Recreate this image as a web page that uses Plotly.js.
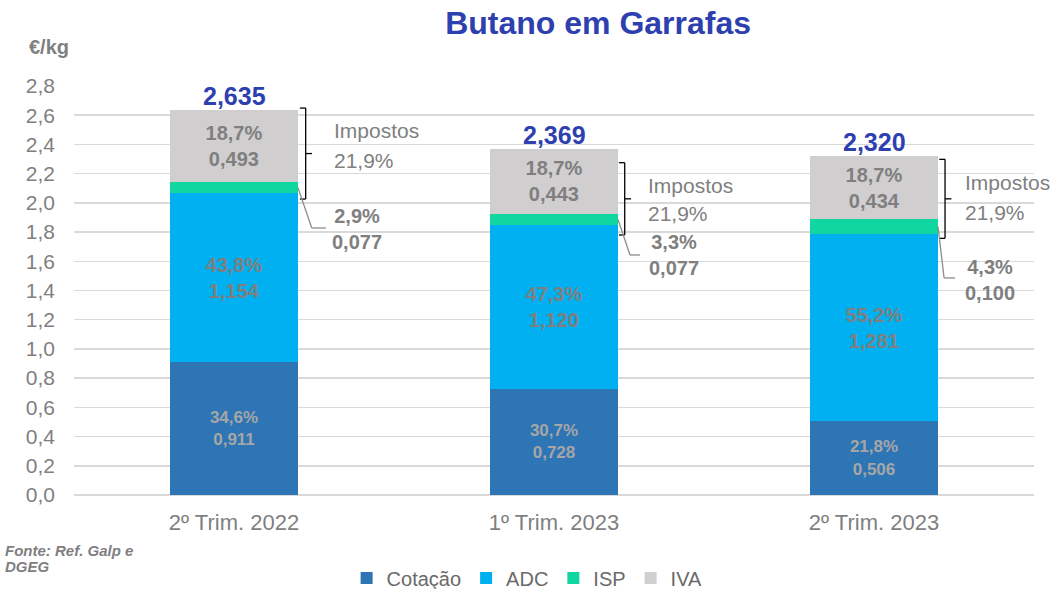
<!DOCTYPE html>
<html>
<head>
<meta charset="utf-8">
<script src="https://cdn.plot.ly/plotly-3.0.1.min.js"></script>
<style>html,body{margin:0;padding:0;background:#fff}#chart{width:1053px;height:589px}</style>
</head>
<body>
<div id="chart"></div>
<script>
const categories = ['2º Trim. 2022', '1º Trim. 2023', '2º Trim. 2023'];
const cotacao = [0.911, 0.728, 0.506];
const adc = [1.154, 1.120, 1.281];
const isp = [0.077, 0.077, 0.100];
const iva = [0.493, 0.443, 0.434];
const cotacaoPct = [34.6, 30.7, 21.8];
const adcPct = [43.8, 47.3, 55.2];
const ispPct = [2.9, 3.3, 4.3];
const ivaPct = [18.7, 18.7, 18.7];
const impostosPct = [21.9, 21.9, 21.9];
const totals = [2.635, 2.369, 2.320];
const yTicks = [0, 0.2, 0.4, 0.6, 0.8, 1.0, 1.2, 1.4, 1.6, 1.8, 2.0, 2.2, 2.4, 2.6, 2.8];

// layout-only placement helpers (not data)
const bracketTop = [2.649, 2.275, 2.298];
const bracketBottom = [2.026, 1.78, 1.757];
const bracketX = [0.224, 0.221, 0.222];
const leaderElbow = [[0.243, 1.828, 0.287], [1.2375, 1.643, 1.269], [2.219, 1.486, 2.253]];
const ispLabelPos = [[0.384, 1.818], [1.375, 1.646], [2.3625, 1.475]];
const impostosPos = [[0.306, 2.492, 2.293], [1.2875, 2.122, 1.924], [2.278, 2.136, 1.937]];

const fmt = (v, d) => v.toFixed(d).replace('.', ',');
const xs = categories.map((_, i) => i);
const FONT = 'Liberation Sans, Arial, sans-serif';

function barTrace(name, vals, pct, color, txtColor, txtSize, showText) {
  return {
    type: 'bar', name: name, x: xs, y: vals,
    marker: {color: color, line: {width: 0}},
    width: 0.4,
    text: showText ? vals.map((v, i) => fmt(pct[i], 1) + '%<br>' + fmt(v, 3)) : vals.map(() => ''),
    textposition: showText ? 'inside' : 'none',
    insidetextanchor: 'middle',
    textangle: 0,
    constraintext: 'none',
    textfont: {family: FONT, size: txtSize, color: txtColor, weight: 'bold'},
    hoverinfo: 'skip'
  };
}

const data = [
  barTrace('Cotação', cotacao, cotacaoPct, '#2E75B6', '#A6A6A6', 17, true),
  barTrace('ADC', adc, adcPct, '#00B0F0', '#7F7F7F', 20, true),
  barTrace('ISP', isp, ispPct, '#10D6A0', '#7F7F7F', 19, false),
  barTrace('IVA', iva, ivaPct, '#D0CECE', '#7F7F7F', 20, true)
];

const annotations = [];
const shapes = [];
const lineStyle = {color: '#000000', width: 1.3};
const leaderStyle = {color: '#8C8C8C', width: 1.3};

xs.forEach((i) => {
  annotations.push({x: i, y: totals[i], xref: 'x', yref: 'y', text: '<b>' + fmt(totals[i], 3) + '</b>',
    showarrow: false, yanchor: 'middle', yshift: 14, font: {family: FONT, size: 25, color: '#2E40AF'}});
  annotations.push({x: ispLabelPos[i][0], y: ispLabelPos[i][1], xref: 'x', yref: 'y',
    text: '<b>' + fmt(ispPct[i], 1) + '%<br>' + fmt(isp[i], 3) + '</b>', showarrow: false,
    xanchor: 'center', yanchor: 'middle', font: {family: FONT, size: 20, color: '#7F7F7F'}});
  annotations.push({x: impostosPos[i][0], y: impostosPos[i][1], xref: 'x', yref: 'y', text: 'Impostos',
    showarrow: false, xanchor: 'left', yanchor: 'middle', font: {family: FONT, size: 21, color: '#808080'}});
  annotations.push({x: impostosPos[i][0], y: impostosPos[i][2], xref: 'x', yref: 'y', text: fmt(impostosPct[i], 1) + '%',
    showarrow: false, xanchor: 'left', yanchor: 'middle', font: {family: FONT, size: 21, color: '#808080'}});
  const bx = i + bracketX[i];
  const t = bracketTop[i], b = bracketBottom[i], m = (t + b) / 2;
  shapes.push({type: 'line', xref: 'x', yref: 'y', x0: bx - 0.018, x1: bx, y0: t, y1: t, line: lineStyle});
  shapes.push({type: 'line', xref: 'x', yref: 'y', x0: bx, x1: bx, y0: t, y1: b, line: lineStyle});
  shapes.push({type: 'line', xref: 'x', yref: 'y', x0: bx - 0.018, x1: bx, y0: b, y1: b, line: lineStyle});
  shapes.push({type: 'line', xref: 'x', yref: 'y', x0: bx, x1: bx + 0.02, y0: m, y1: m, line: lineStyle});
  const startY = cotacao[i] + adc[i] + isp[i] / 2;
  const el = leaderElbow[i];
  shapes.push({type: 'line', xref: 'x', yref: 'y', x0: i + 0.2, y0: startY, x1: el[0], y1: el[1], line: leaderStyle});
  shapes.push({type: 'line', xref: 'x', yref: 'y', x0: el[0], y0: el[1], x1: el[2], y1: el[1], line: leaderStyle});
});

annotations.push({xref: 'paper', yref: 'paper', x: -0.049, y: 1.095, xanchor: 'left', yanchor: 'middle',
  text: '<b>€/kg</b>', showarrow: false, font: {family: FONT, size: 20, color: '#7F7F7F'}});
annotations.push({xref: 'paper', yref: 'paper', x: -0.074, y: -0.135, xanchor: 'left', yanchor: 'middle', align: 'left',
  text: '<b><i>Fonte: Ref. Galp e</i></b>', showarrow: false, font: {family: FONT, size: 15, color: '#7F7F7F'}});
annotations.push({xref: 'paper', yref: 'paper', x: -0.074, y: -0.176, xanchor: 'left', yanchor: 'middle', align: 'left',
  text: '<b><i>DGEG</i></b>', showarrow: false, font: {family: FONT, size: 15, color: '#7F7F7F'}});

const layout = {
  width: 1053, height: 589,
  separators: ',.',
  paper_bgcolor: '#ffffff', plot_bgcolor: '#ffffff',
  margin: {l: 74, r: 19, t: 86, b: 94, autoexpand: false},
  barmode: 'stack',
  showlegend: true,
  font: {family: FONT, color: '#7F7F7F'},
  title: {text: '<b>Butano em Garrafas</b>', x: 0.568, xanchor: 'center', y: 0.962, yanchor: 'middle',
    font: {family: FONT, size: 32, color: '#2E40AF'}},
  xaxis: {range: [-0.5, 2.5], tickvals: xs, ticktext: categories, showgrid: false, zeroline: false,
    showline: false, ticks: '', ticklabelstandoff: 12, automargin: false,
    tickfont: {family: FONT, size: 22, color: '#7F7F7F'}, fixedrange: true},
  yaxis: {range: [0, 2.8], tickvals: yTicks, tickformat: '.1f', showgrid: true, gridcolor: '#D9D9D9', gridwidth: 1.5,
    zeroline: true, zerolinecolor: '#D9D9D9', zerolinewidth: 1.5, showline: false, ticks: '', automargin: false,
    ticklabelstandoff: 18, tickfont: {family: FONT, size: 21, color: '#7F7F7F'}, fixedrange: true},
  legend: {orientation: 'h', x: 0.472, xanchor: 'center', y: -0.203, yanchor: 'middle',
    font: {family: FONT, size: 20, color: '#6A6A6A'}, itemwidth: 30, traceorder: 'normal'},
  annotations: annotations,
  shapes: shapes
};

Plotly.newPlot('chart', data, layout, {displayModeBar: false, staticPlot: true});
</script>
</body>
</html>
